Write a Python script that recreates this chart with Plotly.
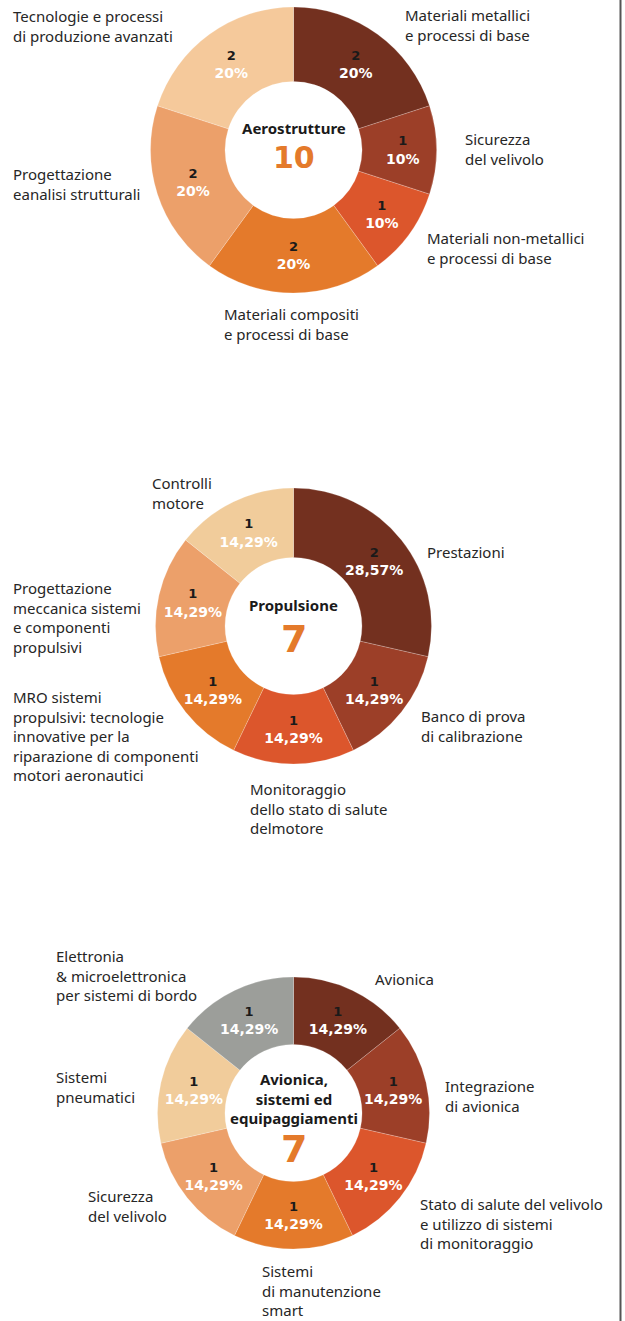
import plotly.graph_objects as go

W, H = 625, 1321

# ---- data ----
aero_labels = ["Materiali metallici<br>e processi di base", "Sicurezza<br>del velivolo",
               "Materiali non-metallici<br>e processi di base", "Materiali compositi<br>e processi di base",
               "Progettazione<br>eanalisi strutturali", "Tecnologie e processi<br>di produzione avanzati"]
aero_values = [2, 1, 1, 2, 2, 2]

prop_labels = ["Prestazioni", "Banco di prova<br>di calibrazione",
               "Monitoraggio<br>dello stato di salute<br>delmotore",
               "MRO sistemi<br>propulsivi: tecnologie<br>innovative per la<br>riparazione di componenti<br>motori aeronautici",
               "Progettazione<br>meccanica sistemi<br>e componenti<br>propulsivi", "Controlli<br>motore"]
prop_values = [2, 1, 1, 1, 1, 1]

avio_labels = ["Avionica", "Integrazione<br>di avionica",
               "Stato di salute del velivolo<br>e utilizzo di sistemi<br>di monitoraggio",
               "Sistemi<br>di manutenzione<br>smart", "Sicurezza<br>del velivolo",
               "Sistemi<br>pneumatici", "Elettronia<br>& microelettronica<br>per sistemi di bordo"]
avio_values = [1, 1, 1, 1, 1, 1, 1]

titles = ["Aerostrutture", "Propulsione", "Avionica,<br>sistemi ed<br>equipaggiamenti"]

# ---- styles / layout ----
colors6 = ["#73301f", "#9c3f28", "#dc562c", "#e47a2b", "#eca06a", "#f5c99b"]
colors6b = ["#73301f", "#9c3f28", "#dc562c", "#e47a2b", "#eca06a", "#f1cc9b"]
colors7 = ["#73301f", "#9c3f28", "#dc562c", "#e47a2b", "#eca06a", "#f1cc9b", "#9c9e9a"]

# pie geometry in pixels: (cx, cy, r, hole)
geoms = [(293.5, 150, 143, 0.479), (293.5, 626, 138, 0.496), (293.5, 1113, 136, 0.504)]

# label positions (left x, first line centre y) in pixels
aero_pos = [(403, 16), (463, 140), (425, 239), (222, 315), (11, 175), (11, 17)]
prop_pos = [(425, 553), (419, 717), (248, 790), (11, 698), (11, 589), (150, 484)]
avio_pos = [(373, 980), (443, 1087), (418, 1205), (260, 1272), (86, 1197), (54, 1078), (54, 957)]

# centre texts: title first line centre y, number centre y, number size
centre_pos = [(129, 158, 30), (606, 639, 38), (1080, 1149, 38)]

FS = 15
LABEL_FONT = dict(family="Noto Sans", size=FS, color="#262626")
HALF_LINE = FS * 1.3 / 2 + 3


def pct_text(values):
    total = sum(values)
    out = []
    for v in values:
        p = v / total * 100
        if abs(p - round(p)) < 1e-9:
            out.append(f"{int(round(p))}%")
        else:
            out.append(f"{p:.2f}".replace(".", ",") + "%")
    return out


def px_dom(cx, cy, r):
    return dict(x=[(cx - r) / W, (cx + r) / W], y=[1 - (cy + r) / H, 1 - (cy - r) / H])


fig = go.Figure()
datasets = [(aero_labels, aero_values, colors6), (prop_labels, prop_values, colors6b),
            (avio_labels, avio_values, colors7)]

for (labels, values, cols), (cx, cy, r, hole) in zip(datasets, geoms):
    fig.add_trace(go.Pie(
        labels=[l.replace("<br>", " ") for l in labels], values=values,
        customdata=pct_text(values),
        sort=False, direction="clockwise", rotation=0, hole=hole,
        domain=px_dom(cx, cy, r),
        marker=dict(colors=cols, line=dict(color="rgba(255,255,255,0.35)", width=0.6)),
        textposition="inside", insidetextorientation="horizontal",
        texttemplate="<b><span style='color:#1a1a1a;font-size:13px'>%{value}</span><br>%{customdata}</b>",
        textfont=dict(family="DejaVu Sans", size=14, color="white"),
        hoverinfo="label+value", showlegend=False,
    ))

ann = []
for labels, pos in [(aero_labels, aero_pos), (prop_labels, prop_pos), (avio_labels, avio_pos)]:
    for lab, (x, y) in zip(labels, pos):
        ann.append(dict(text=lab, x=x / W, y=1 - (y - HALF_LINE) / H, xref="paper", yref="paper",
                        xanchor="left", yanchor="top", align="left", showarrow=False,
                        font=LABEL_FONT))

numbers = [sum(aero_values), sum(prop_values), sum(avio_values)]
for t, n, (ty, ny, ns) in zip(titles, numbers, centre_pos):
    ann.append(dict(text=f"<b>{t}</b>", x=293.5 / W, y=1 - (ty - HALF_LINE) / H,
                    xref="paper", yref="paper", xanchor="center", yanchor="top", align="center",
                    showarrow=False, font=dict(family="Noto Sans", size=15, color="#1a1a1a")))
    ann.append(dict(text=f"<b>{n}</b>", x=293.5 / W, y=1 - ny / H, xref="paper", yref="paper",
                    xanchor="center", yanchor="middle", showarrow=False,
                    font=dict(family="DejaVu Sans", size=ns, color="#e47a2b")))

fig.update_layout(
    width=W, height=H, margin=dict(l=0, r=0, t=0, b=0),
    paper_bgcolor="white", plot_bgcolor="white",
    annotations=ann,
    uniformtext=dict(minsize=13, mode="show"),
    shapes=[dict(type="line", xref="paper", yref="paper", x0=620.5 / W, x1=620.5 / W, y0=0, y1=1,
                 line=dict(color="#555555", width=2))],
)

fig.write_html("out.html", config={"displayModeBar": False},
               post_script="document.body.style.margin='0';document.body.style.overflow='hidden';")
